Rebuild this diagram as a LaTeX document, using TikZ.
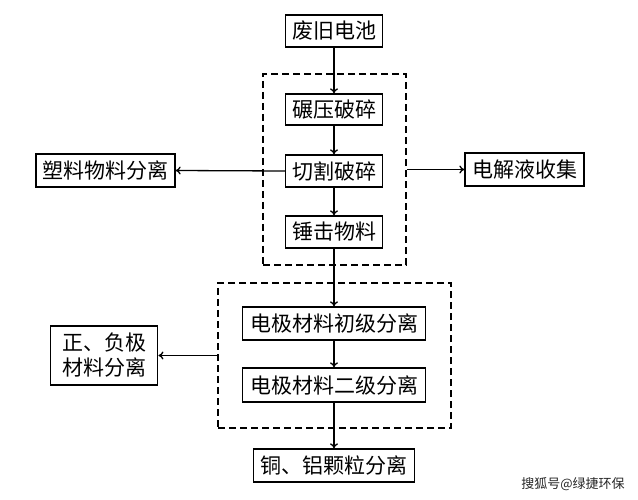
\documentclass[tikz,border=0pt]{standalone}
\usepackage{fontspec}
\newfontfamily\cjk{Noto Sans CJK SC}
\usetikzlibrary{arrows.meta}
\tikzset{
  procbox/.style={draw=black, line width=1.3pt, inner sep=0pt, align=center,
    font=\cjk\fontsize{21}{25}\selectfont, fill=white},
  dashbox/.style={draw=black, line width=1.6pt, dash pattern=on 7pt off 4pt, inner sep=0pt},
  flow/.style={line width=1.3pt, -{To[length=5pt,width=8pt]}}
}
\begin{document}
\begin{tikzpicture}[x=1pt,y=-1pt]
\useasboundingbox (0,0) rectangle (638,500);
\fill[white] (0,0) rectangle (638,500);
% dashed groups
\node[dashbox, minimum width=143pt, minimum height=191pt] (d1) at (334.5,169.5) {};
\node[dashbox, minimum width=233pt, minimum height=145pt] (d2) at (334.5,355.5) {};
% main chain
\node[procbox, minimum width=97pt, minimum height=32pt] (a) at (334,31) {废旧电池};
\node[procbox, minimum width=97pt, minimum height=31pt] (b) at (334,109.5) {碾压破碎};
\node[procbox, minimum width=97pt, minimum height=32pt] (c) at (334,171) {切割破碎};
\node[procbox, minimum width=97pt, minimum height=32pt] (d) at (334,232) {锤击物料};
\node[procbox, minimum width=183pt, minimum height=33pt] (e) at (334,323.5) {电极材料初级分离};
\node[procbox, minimum width=183pt, minimum height=34pt] (f) at (334,385) {电极材料二级分离};
\node[procbox, minimum width=161pt, minimum height=33pt] (g) at (334,465.5) {铜、铝颗粒分离};
% side boxes
\node[procbox, minimum width=139pt, minimum height=33pt] (p) at (105.5,170.5) {塑料物料分离};
\node[procbox, minimum width=119pt, minimum height=33pt] (q) at (524.5,169.5) {电解液收集};
\node[procbox, minimum width=107pt, minimum height=59pt] (r) at (104.3,355.5) {正、负极\\材料分离};
% connectors
\draw[flow] (a) -- (b);
\draw[flow] (b) -- (c);
\draw[flow] (c) -- (d);
\draw[flow] (d) -- (e);
\draw[flow] (e) -- (f);
\draw[flow] (f) -- (g);
\draw[flow] (c.west) -- (p.east);
\draw[flow] (d1.east) -- (q.west);
\draw[flow] (d2.west) -- (r.east);
% watermark
\node[font=\cjk\fontsize{13}{15}\selectfont, text=black!85, inner sep=0pt] (w) at (573,484) {搜狐号@绿捷环保};
\end{tikzpicture}
\end{document}
